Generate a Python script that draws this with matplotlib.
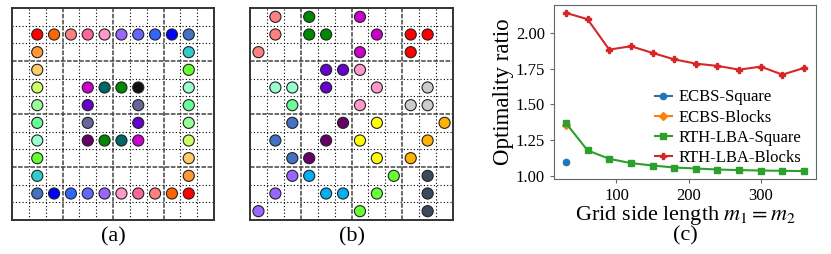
import numpy as np
import matplotlib
matplotlib.use('Agg')
import matplotlib.pyplot as plt

plt.rcParams['font.family'] = ['Liberation Serif', 'DejaVu Serif']
plt.rcParams['mathtext.fontset'] = 'stix'

# colour names used by the agent markers
red = '#ff0000'
orange_red = '#ff6600'
salmon = '#ff8080'
hotpink = '#ff6699'
lightpink = '#ff99cc'
medpurple = '#9966ff'
periwinkle = '#6666ff'
azure = '#3366ff'
blue = '#0000ff'
steel = '#4472c4'
orange = '#ff9933'
turq = '#33cccc'
lightorange = '#ffcc66'
lime = '#66ff33'
yellowgreen = '#ccff66'
aquamarine = '#99ffcc'
lightgreen = '#99ff99'
springgreen = '#66ff99'
magenta = '#cc00cc'
darkteal = '#006666'
green = '#008800'
black = '#111111'
purple = '#6600cc'
slate = '#666699'
darkpurple = '#660066'
grey = '#cccccc'
yellow = '#ffff00'
amber = '#ffb300'
skyblue = '#00b0f0'
darkslate = '#3d4a5c'

# (a) square formation: (row, col, colour)
a_rows = [1] * 10 + [2, 2, 3, 3, 4, 4, 4, 4, 4, 4, 5, 5, 5, 5, 6, 6, 6, 6,
                     7, 7, 7, 7, 7, 7, 8, 8, 9, 9] + [10] * 10
a_cols = list(range(1, 11)) + [1, 10, 1, 10, 1, 4, 5, 6, 7, 10, 1, 4, 7, 10,
                               1, 4, 7, 10, 1, 4, 5, 6, 7, 10, 1, 10, 1, 10] + list(range(1, 11))
a_colors = [red, orange_red, salmon, hotpink, lightpink, medpurple, periwinkle, azure, blue, steel,
            orange, turq, lightorange, lime,
            yellowgreen, magenta, darkteal, green, black, aquamarine,
            lightgreen, purple, slate, springgreen,
            springgreen, slate, purple, lightgreen,
            aquamarine, darkpurple, green, darkteal, magenta, yellowgreen,
            lime, lightorange, turq, orange,
            steel, blue, azure, periwinkle, medpurple, lightpink, hotpink, salmon, orange_red, red]

# (b) blocks formation
b_rows = [0, 0, 0,
          1, 1, 1, 1, 1, 1,
          2, 2, 2,
          3, 3, 3,
          4, 4, 4, 4, 4,
          5, 5, 5, 5,
          6, 6, 6, 6,
          7, 7, 7, 7,
          8, 8, 8, 8,
          9, 9, 9, 9,
          10, 10, 10, 10, 10,
          11, 11, 11]
b_cols = [1, 3, 6,
          1, 3, 4, 7, 9, 10,
          0, 6, 9,
          4, 5, 6,
          1, 2, 4, 7, 10,
          2, 6, 9, 10,
          2, 5, 7, 11,
          1, 4, 6, 10,
          2, 3, 7, 9,
          2, 3, 8, 10,
          1, 4, 5, 7, 10,
          0, 6, 10]
b_colors = [salmon, green, magenta,
            salmon, green, green, magenta, red, red,
            salmon, magenta, red,
            purple, purple, lightpink,
            aquamarine, aquamarine, purple, lightpink, grey,
            springgreen, lightpink, grey, grey,
            steel, darkpurple, yellow, amber,
            steel, darkpurple, yellow, amber,
            steel, darkpurple, yellow, amber,
            medpurple, skyblue, lime, darkslate,
            medpurple, skyblue, skyblue, lime, darkslate,
            medpurple, lime, darkslate]

# (c) optimality ratio
grid_side = [30, 60, 90, 120, 150, 180, 210, 240, 270, 300, 330, 360]
ecbs_square_x = [30]
ecbs_square = [1.096]
ecbs_blocks_x = [30]
ecbs_blocks = [1.353]
rth_square = [1.369, 1.178, 1.119, 1.089, 1.072, 1.058, 1.051, 1.044, 1.040, 1.037, 1.035, 1.033]
rth_blocks = [2.140, 2.096, 1.883, 1.907, 1.860, 1.815, 1.785, 1.769, 1.743, 1.764, 1.708, 1.755]

n_cells = 12

fig = plt.figure(figsize=(8.31, 2.54), dpi=100)


def draw_grid(ax, rows, cols, colors, label):
    ax.set_xlim(0, n_cells)
    ax.set_ylim(n_cells, 0)
    for k in range(1, n_cells):
        if k % 3 == 0:
            kw = dict(color='#444444', lw=1.1, linestyle=(0, (3, 1)))
        else:
            kw = dict(color='black', lw=0.8, linestyle=(0, (1, 2)))
        ax.axvline(k, zorder=1, **kw)
        ax.axhline(k, zorder=1, **kw)
    ax.scatter(np.array(cols) + 0.5, np.array(rows) + 0.5, s=64, c=colors,
               edgecolors='#222222', linewidths=0.8, zorder=3)
    ax.set_xticks([])
    ax.set_yticks([])
    for sp in ax.spines.values():
        sp.set_color('#333333')
        sp.set_linewidth(1.4)
    ax.text(0.5, -0.035, label, transform=ax.transAxes, ha='center', va='top', fontsize=16)


ax_a = fig.add_axes([12 / 831, 34 / 254, 202 / 831, 212 / 254])
draw_grid(ax_a, a_rows, a_cols, a_colors, '(a)')
ax_b = fig.add_axes([250 / 831, 34 / 254, 203 / 831, 212 / 254])
draw_grid(ax_b, b_rows, b_cols, b_colors, '(b)')

ax = fig.add_axes([554 / 831, 75 / 254, 262 / 831, 174 / 254])
ax.plot(ecbs_square_x, ecbs_square, marker='o', ms=4.5, color='tab:blue', label='ECBS-Square')
ax.plot(ecbs_blocks_x, ecbs_blocks, marker='D', ms=4.5, color='tab:orange', label='ECBS-Blocks')
ax.plot(grid_side, rth_square, marker='s', ms=4.5, color='tab:green', label='RTH-LBA-Square')
ax.plot(grid_side, rth_blocks, marker='P', ms=5, color='tab:red', label='RTH-LBA-Blocks')
ax.set_yticks([1.00, 1.25, 1.50, 1.75, 2.00])
ax.set_xticks([100, 200, 300])
ax.tick_params(labelsize=12, color='#666666', length=3)
for sp in ax.spines.values():
    sp.set_color('#666666')
ax.set_ylabel('Optimality ratio', fontsize=16.5, labelpad=1)
ax.set_xlabel('Grid side length $m_1 = m_2$\n(c)', fontsize=16, labelpad=0, linespacing=0.95)
ax.legend(loc='center left', bbox_to_anchor=(0.335, 0.295), frameon=False, fontsize=12,
          handlelength=1.0, handletextpad=0.4, labelspacing=0.25, borderpad=0.3)

fig.savefig('out.png', dpi=100)
